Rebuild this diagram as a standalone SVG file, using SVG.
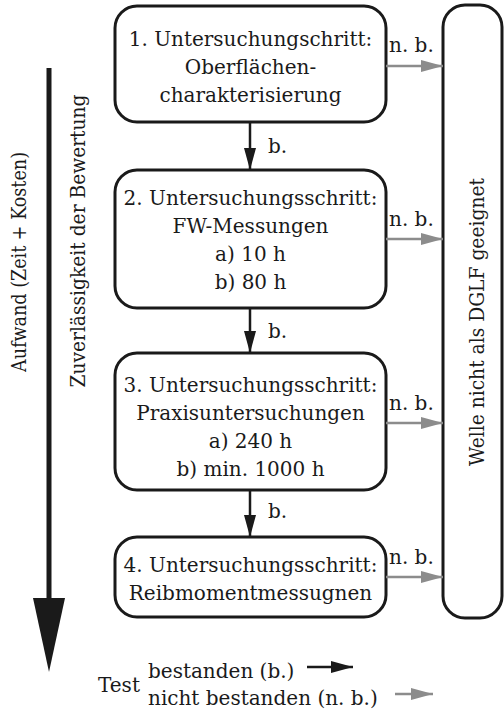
<svg xmlns="http://www.w3.org/2000/svg" width="504" height="713" viewBox="0 0 504 713">
  <style>
    text { font-family: "DejaVu Serif", "Liberation Serif", serif; font-size: 20px; fill: #1a1a1a; }
    .c { text-anchor: middle; }
    .box { fill: #ffffff; stroke: #1a1a1a; stroke-width: 3; }
    .pass { stroke: #1a1a1a; stroke-width: 2.5; fill: none; }
    .fail { stroke: #8c8c8c; stroke-width: 2.5; fill: none; }
  </style>
  <defs>
    <marker id="headBlack" markerUnits="userSpaceOnUse" markerWidth="24" markerHeight="14" refX="22" refY="6" orient="auto">
      <path d="M0,0 L22,6 L0,12 Z" fill="#1a1a1a"/>
    </marker>
    <marker id="headGray" markerUnits="userSpaceOnUse" markerWidth="24" markerHeight="14" refX="22" refY="6" orient="auto">
      <path d="M0,0 L22,6 L0,12 Z" fill="#8c8c8c"/>
    </marker>
  </defs>

  <!-- effort / reliability axis -->
  <g id="axis">
    <line x1="49" y1="68" x2="49" y2="600" stroke="#1a1a1a" stroke-width="5"/>
    <path d="M33,598 L65,598 L49,672 Z" fill="#1a1a1a"/>
    <text transform="translate(26,262) rotate(-90)" class="c" font-size="19" textLength="220" lengthAdjust="spacingAndGlyphs">Aufwand (Zeit + Kosten)</text>
    <text transform="translate(85,241) rotate(-90)" class="c" font-size="19" textLength="293" lengthAdjust="spacingAndGlyphs">Zuverlässigkeit der Bewertung</text>
  </g>

  <g id="step1">
    <rect class="box" x="115" y="6" width="271" height="116" rx="22"/>
    <text class="c" x="250.5" y="46">1. Untersuchungschritt:</text>
    <text class="c" x="250.5" y="74">Oberflächen-</text>
    <text class="c" x="250.5" y="102">charakterisierung</text>
  </g>

  <g id="step2">
    <rect class="box" x="115" y="170" width="271" height="138" rx="22"/>
    <text class="c" x="250.5" y="205">2. Untersuchungsschritt:</text>
    <text class="c" x="250.5" y="233">FW-Messungen</text>
    <text class="c" x="250.5" y="261">a) 10 h</text>
    <text class="c" x="250.5" y="289">b) 80 h</text>
  </g>

  <g id="step3">
    <rect class="box" x="115" y="353" width="271" height="137" rx="22"/>
    <text class="c" x="250.5" y="392">3. Untersuchungsschritt:</text>
    <text class="c" x="250.5" y="420">Praxisuntersuchungen</text>
    <text class="c" x="250.5" y="448">a) 240 h</text>
    <text class="c" x="250.5" y="476">b) min. 1000 h</text>
  </g>

  <g id="step4">
    <rect class="box" x="115" y="537" width="271" height="80" rx="22"/>
    <text class="c" x="250.5" y="572">4. Untersuchungsschritt:</text>
    <text class="c" x="250.5" y="600">Reibmomentmessugnen</text>
  </g>

  <g id="unsuitable">
    <rect class="box" x="443" y="5" width="59" height="613" rx="22"/>
    <text transform="translate(484,322) rotate(-90)" class="c" font-size="19" textLength="288" lengthAdjust="spacingAndGlyphs">Welle nicht als DGLF geeignet</text>
  </g>

  <g id="connectors">
    <line class="pass" x1="250" y1="122" x2="250" y2="170" marker-end="url(#headBlack)"/>
    <line class="pass" x1="250" y1="308" x2="250" y2="353" marker-end="url(#headBlack)"/>
    <line class="pass" x1="250" y1="490" x2="250" y2="537" marker-end="url(#headBlack)"/>
    <text x="268" y="153">b.</text>
    <text x="268" y="338">b.</text>
    <text x="268" y="518">b.</text>

    <line class="fail" x1="386" y1="66" x2="443" y2="66" marker-end="url(#headGray)"/>
    <line class="fail" x1="386" y1="239" x2="443" y2="239" marker-end="url(#headGray)"/>
    <line class="fail" x1="386" y1="423" x2="443" y2="423" marker-end="url(#headGray)"/>
    <line class="fail" x1="386" y1="577" x2="443" y2="577" marker-end="url(#headGray)"/>
    <text x="389" y="52">n. b.</text>
    <text x="389" y="226">n. b.</text>
    <text x="389" y="410">n. b.</text>
    <text x="389" y="564">n. b.</text>
  </g>

  <g id="legend">
    <text x="98" y="692">Test</text>
    <text x="148" y="678">bestanden (b.)</text>
    <text x="148" y="705">nicht bestanden (n. b.)</text>
    <line class="pass" x1="307" y1="667" x2="353" y2="667" stroke-width="3" marker-end="url(#headBlack)"/>
    <line class="fail" x1="395" y1="694" x2="433" y2="694" marker-end="url(#headGray)"/>
  </g>
</svg>
